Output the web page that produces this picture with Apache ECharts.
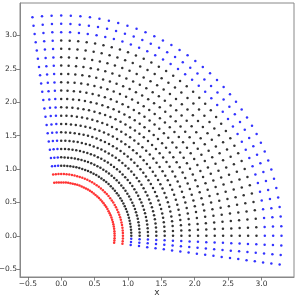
<!DOCTYPE html>
<html>
<head>
<meta charset="utf-8">
<script src="https://cdn.jsdelivr.net/npm/echarts@6/dist/echarts.min.js"></script>
<style>
html,body{margin:0;padding:0;background:#fff;}
#chart{width:298px;height:299px;}
</style>
</head>
<body>
<div id="chart"></div>
<script>
// Ring radii (from inner ghost rings to outer ghost rings)
var radii = [0.8, 0.925, 1.05, 1.175, 1.3, 1.425, 1.55, 1.675, 1.8, 1.925, 2.05,
             2.175, 2.3, 2.425, 2.55, 2.675, 2.8, 2.925, 3.05, 3.175, 3.3];
// Angular positions in degrees (3 ghost angles each side of 0..90)
var anglesDeg = [-7.5, -5, -2.5, 0, 2.5, 5, 7.5, 10, 12.5, 15, 17.5, 20, 22.5, 25, 27.5,
                 30, 32.5, 35, 37.5, 40, 42.5, 45, 47.5, 50, 52.5, 55, 57.5, 60, 62.5,
                 65, 67.5, 70, 72.5, 75, 77.5, 80, 82.5, 85, 87.5, 90, 92.5, 95, 97.5];
// Number of ghost layers
var innerGhostRings = 2;
var outerGhostRings = 3;
var angularGhosts = 3;
// Tick labels
var xTicks = [-0.5, 0.0, 0.5, 1.0, 1.5, 2.0, 2.5, 3.0];
var yTicks = [-0.5, 0.0, 0.5, 1.0, 1.5, 2.0, 2.5, 3.0];

var redPts = [], bluePts = [], blackPts = [];
for (var i = 0; i < radii.length; i++) {
  for (var j = 0; j < anglesDeg.length; j++) {
    var t = anglesDeg[j] * Math.PI / 180;
    var p = [radii[i] * Math.cos(t), radii[i] * Math.sin(t)];
    if (i < innerGhostRings) redPts.push(p);
    else if (i >= radii.length - outerGhostRings || j < angularGhosts || j >= anglesDeg.length - angularGhosts) bluePts.push(p);
    else blackPts.push(p);
  }
}

function fmt(v) {
  var s = Math.abs(v).toFixed(1);
  return v < 0 ? '\u2212' + s : s;
}

var chart = echarts.init(document.getElementById('chart'), null, {renderer: 'canvas'});
var axisCommon = {
  type: 'value',
  splitLine: {show: false},
  axisLine: {show: true, onZero: false, lineStyle: {color: '#888', width: 1}},
  axisLabel: {fontFamily: 'DejaVu Sans', fontSize: 7.5, color: '#333', margin: 3, formatter: fmt},
  axisTick: {show: true, length: 3.5, lineStyle: {color: '#666', width: 0.8}}
};
chart.setOption({
  animation: false,
  backgroundColor: '#fff',
  grid: {left: 20, right: 4, top: 3, bottom: 22, show: true, borderColor: '#888', borderWidth: 1,
         containLabel: false, outerBoundsMode: 'none'},
  xAxis: echarts.util.merge(echarts.util.clone(axisCommon), {
    min: -0.617, max: 3.487,
    name: 'x', nameLocation: 'middle', nameGap: 11, nameMoveOverlap: false,
    nameTextStyle: {fontFamily: 'DejaVu Sans', fontSize: 9, color: '#333'},
    axisLabel: {customValues: xTicks},
    axisTick: {customValues: xTicks}
  }),
  yAxis: echarts.util.merge(echarts.util.clone(axisCommon), {
    min: -0.617, max: 3.487,
    axisLabel: {customValues: yTicks},
    axisTick: {customValues: yTicks}
  }),
  series: [
    {type: 'scatter', data: blackPts, symbolSize: 2.5, itemStyle: {color: '#000'}, silent: true},
    {type: 'scatter', data: bluePts, symbolSize: 2.5, itemStyle: {color: '#0000ff'}, silent: true},
    {type: 'scatter', data: redPts, symbolSize: 2.5, itemStyle: {color: '#ff0000'}, silent: true}
  ]
});
</script>
</body>
</html>
